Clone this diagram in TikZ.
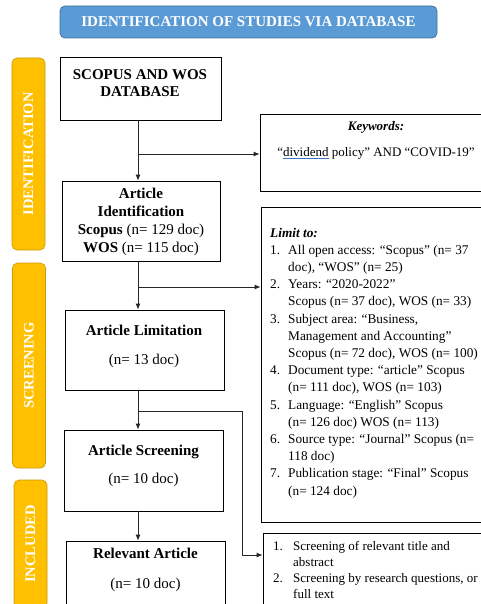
\documentclass[tikz,border=0pt]{standalone}
\usepackage{fontspec}
\setmainfont{LiberationSerif}[Extension=.ttf,UprightFont=*-Regular,BoldFont=*-Bold,ItalicFont=*-Italic,BoldItalicFont=*-BoldItalic]
\usetikzlibrary{arrows.meta}
\definecolor{bannerblue}{HTML}{5B9BD5}
\definecolor{bannerline}{HTML}{41719C}
\definecolor{goldfill}{HTML}{FFC000}
\definecolor{goldline}{HTML}{C99A06}
\definecolor{spellblue}{HTML}{4472C4}
\newcommand\numb[1]{\makebox[18pt][l]{#1}}
\newcommand\numc[1]{\makebox[20pt][l]{#1}}
\newsavebox\spellbox
\newcommand\spellmark[1]{\sbox\spellbox{#1}\rlap{\color{spellblue}\rule[-2.3pt]{\wd\spellbox}{0.8pt}}\usebox\spellbox}
\begin{document}
\begin{tikzpicture}[x=1pt,y=-1pt,
 box/.style={draw=black,line width=0.8pt,inner sep=0pt},
 maintext/.style={align=center,inner sep=0pt},
 side/.style={draw=goldline,fill=goldfill,rounded corners=5pt,line width=0.6pt,rotate=90,text=white,font=\fontsize{14.5}{17}\selectfont\bfseries,inner sep=0pt,minimum height=33pt},
 arr/.style={draw=black!85,line width=0.8pt,-{Latex[length=6pt,width=5pt]}},
 listtext/.style={anchor=base west,inner sep=0pt,align=left},
]
\useasboundingbox (0,0) rectangle (481,604);
\clip (0,0) rectangle (481,604);

% title banner
\node[draw=bannerline,fill=bannerblue,rounded corners=5pt,minimum width=377pt,minimum height=32pt,
  text=white,font=\fontsize{15}{18}\selectfont\bfseries,line width=0.8pt,inner sep=0pt]
  (title) at (248.5,22) {IDENTIFICATION OF STUDIES VIA DATABASE};

% side bars
\node[side,minimum width=192pt] (sid) at (28.5,154) {IDENTIFICATION};
\node[side,minimum width=205pt] (sscr) at (29,365.5) {SCREENING};
\node[side,minimum width=128pt] (sinc) at (30.5,544) {INCLUDED};

% main boxes
\node[box,minimum width=161pt,minimum height=63pt] (db) at (140.5,88.5) {};
\node[maintext,font=\fontsize{15}{17}\selectfont\bfseries] (dbt) at (140,83.5) {SCOPUS AND WOS\\DATABASE};

\node[box,minimum width=158pt,minimum height=80pt] (aid) at (141,221) {};
\node[maintext,font=\fontsize{15}{18}\selectfont] (aidt) at (141,222) {\textbf{Article}\\\textbf{Identification}\\\textbf{Scopus} (n= 129 doc)\\\textbf{WOS} (n= 115 doc)};

\node[box,minimum width=159pt,minimum height=80pt] (alim) at (144.5,350) {};
\node[maintext,font=\fontsize{15}{29}\selectfont] (alimt) at (144,346.5) {\textbf{Article Limitation}\\(n= 13 doc)};

\node[box,minimum width=159pt,minimum height=81pt] (ascr) at (143.5,470.5) {};
\node[maintext,font=\fontsize{15}{28}\selectfont] (ascrt) at (143.5,466) {\textbf{Article Screening}\\(n= 10 doc)};

\node[box,minimum width=159pt,minimum height=80pt] (rel) at (145.5,581) {};
\node[maintext,font=\fontsize{15}{30}\selectfont] (relt) at (145.5,570) {\textbf{Relevant Article}\\(n= 10 doc)};

% right boxes
\node[box,minimum width=232pt,minimum height=77pt] (kw) at (376,152.5) {};
\node[maintext,font=\fontsize{13}{26}\selectfont] (kwt) at (376,140) {\textbf{\textit{Keywords:}}\\“\spellmark{dividend} policy” AND “COVID-19”};

\node[box,minimum width=234pt,minimum height=315pt] (lim) at (378,364.5) {};
\node[listtext,font=\fontsize{13.3}{17.2}\selectfont] (limt) at (270,495) {%
\textbf{\textit{Limit to:}}\\
\numb{1.}All open access: “Scopus” (n= 37\\
\numb{}doc), “WOS” (n= 25)\\
\numb{2.}Years: “2020-2022”\\
\numb{}Scopus (n= 37 doc), WOS (n= 33)\\
\numb{3.}Subject area: “Business,\\
\numb{}Management and Accounting”\\
\numb{}Scopus (n= 72 doc), WOS (n= 100)\\
\numb{4.}Document type: “article” Scopus\\
\numb{}(n= 111 doc), WOS (n= 103)\\
\numb{5.}Language: “English” Scopus\\
\numb{}(n= 126 doc) WOS (n= 113)\\
\numb{6.}Source type: “Journal” Scopus (n=\\
\numb{}118 doc)\\
\numb{7.}Publication stage: “Final” Scopus\\
\numb{}(n= 124 doc)};

\node[box,minimum width=232pt,minimum height=107pt] (scr) at (379,586.5) {};
\node[listtext,font=\fontsize{13}{16}\selectfont] (scrt) at (273,598) {%
\numc{1.}Screening of relevant title and\\
\numc{}abstract\\
\numc{2.}Screening by research questions, or\\
\numc{}full text};

% connectors
\coordinate (spine) at (138,0);
\coordinate (b1) at (138,154);
\coordinate (b2) at (138,287);
\coordinate (b3) at (138,411);
\coordinate (elbow) at (242,555);
\draw[arr] (db.south -| spine) -- (aid.north -| spine);
\draw[arr] (aid.south -| spine) -- (alim.north -| spine);
\draw[arr] (alim.south -| spine) -- (ascr.north -| spine);
\draw[arr] (ascr.south -| spine) -- (rel.north -| spine);
\draw[arr] (b1) -- (b1 -| kw.west);
\draw[arr] (b2) -- (b2 -| lim.west);
\draw[arr] (b3) -| (elbow) -- (elbow -| scr.west);
\end{tikzpicture}
\end{document}
